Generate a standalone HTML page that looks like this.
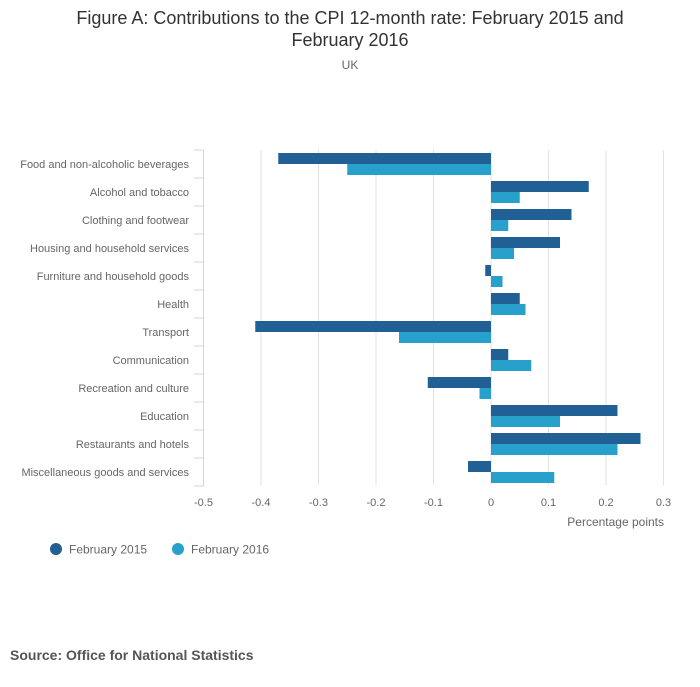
<!DOCTYPE html>
<html><head><meta charset="utf-8"><style>
body{margin:0;background:#fff;font-family:"Liberation Sans",sans-serif;}
</style></head><body>
<svg width="700" height="682" xmlns="http://www.w3.org/2000/svg">
<text x="350" y="24" text-anchor="middle" font-size="18" fill="#333">Figure A: Contributions to the CPI 12-month rate: February 2015 and</text>
<text x="350" y="46" text-anchor="middle" font-size="18" fill="#333">February 2016</text>
<text x="350" y="69" text-anchor="middle" font-size="12" fill="#666">UK</text>
<g id="plot"></g>
<text x="664" y="526" text-anchor="end" font-size="12" fill="#666">Percentage points</text>
<g>
<circle cx="56" cy="549" r="6" fill="#206095"/>
<text x="69" y="553.5" font-size="12" fill="#666">February 2015</text>
<circle cx="178" cy="549" r="6" fill="#27a0cc"/>
<text x="191" y="553.5" font-size="12" fill="#666">February 2016</text>
</g>
<text x="10" y="660" font-size="14" font-weight="bold" fill="#555">Source: Office for National Statistics</text>
</svg>
<script>
const categories=["Food and non-alcoholic beverages","Alcohol and tobacco","Clothing and footwear","Housing and household services","Furniture and household goods","Health","Transport","Communication","Recreation and culture","Education","Restaurants and hotels","Miscellaneous goods and services"];
const feb2015=[-0.37,0.17,0.14,0.12,-0.01,0.05,-0.41,0.03,-0.11,0.22,0.26,-0.04];
const feb2016=[-0.25,0.05,0.03,0.04,0.02,0.06,-0.16,0.07,-0.02,0.12,0.22,0.11];
const ticks=[-0.5,-0.4,-0.3,-0.2,-0.1,0,0.1,0.2,0.3];
const tickLabels=["-0.5","-0.4","-0.3","-0.2","-0.1","0","0.1","0.2","0.3"];
const NS="http://www.w3.org/2000/svg";
const g=document.getElementById('plot');
const x0=203.5,x1=663.5,dmin=-0.5,dmax=0.3,plotTop=150,rowH=28;
const xs=v=>x0+(v-dmin)/(dmax-dmin)*(x1-x0);
function mk(t,a){const e=document.createElementNS(NS,t);for(const k in a)e.setAttribute(k,a[k]);g.appendChild(e);return e;}
const plotBottom=plotTop+rowH*categories.length;
ticks.forEach((t,i)=>{
 if(i>0){const l=mk('line',{x1:xs(t),x2:xs(t),y1:plotTop,y2:plotBottom-1,stroke:'#e2e2e2','stroke-width':1});
 
 }
 const tx=mk('text',{x:xs(t),y:plotBottom+20,'text-anchor':'middle','font-size':11,fill:'#666'});
 tx.textContent=tickLabels[i];
 
 
});
const ax=mk('line',{x1:x0,x2:x0,y1:plotTop,y2:plotBottom,stroke:'#ccd6eb','stroke-width':1});


for(let i=0;i<=categories.length;i++){
 const tk=mk('line',{x1:x0-10,x2:x0,y1:plotTop+i*rowH,y2:plotTop+i*rowH,stroke:'#ccd6eb','stroke-width':1});
 
 
}
categories.forEach((c,i)=>{
 const yc=plotTop+i*rowH+rowH/2;
 const t=mk('text',{x:189,y:yc+4,'text-anchor':'end','font-size':11,fill:'#666'});
 t.textContent=c;
 
 
 [[feb2015[i],'#206095',yc-11,'bar-2015'],[feb2016[i],'#27a0cc',yc,'bar-2016']].forEach(([v,col,y,n])=>{
  const a=xs(Math.min(0,v)),b=xs(Math.max(0,v));
  const r=mk('rect',{x:a,y:y,width:Math.max(b-a,0.5),height:11,fill:col});
  
  
 });
});
</script>
</body></html>
